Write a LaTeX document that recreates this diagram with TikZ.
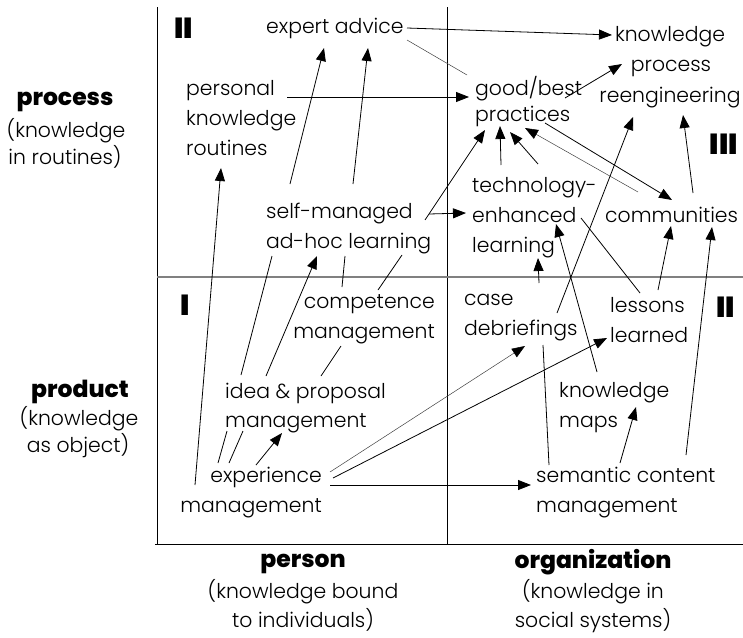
\documentclass[tikz,border=0pt]{standalone}
\usepackage{fontspec}
\setmainfont{Poppins}[UprightFont=* Light, BoldFont=* ExtraBold]
\newfontfamily\numfont{Poppins Black}
\usetikzlibrary{arrows.meta}
\begin{document}
\begin{tikzpicture}[x=1pt,y=-1pt,
  lbl/.style={inner sep=0pt,font=\fontsize{20.4}{25}\selectfont},
  hd/.style={inner sep=0pt,font=\fontsize{23.5}{25}\selectfont\bfseries},
  roman/.style={inner sep=0pt,font=\fontsize{29}{30}\selectfont\numfont},
  conn/.style={line width=0.8pt},
  arr/.style={conn,-{Triangle[length=13pt,width=10pt]}},
  faint/.style={line width=0.5pt,draw=black!75},
  faintarr/.style={faint,-{Triangle[length=13pt,width=10pt,color=black]}},
  frame/.style={line width=0.8pt},
  midline/.style={line width=1.3pt,draw=black!50},
]
\useasboundingbox (0,0) rectangle (743,637);
% frame
\draw[frame] (157,7) coordinate (tl) -- (157,544) coordinate (bl);
\draw[frame] (447,7) coordinate (tm) -- (447,545) coordinate (bm);
\draw[frame] (155,544) coordinate (bx0) -- (743,544) coordinate (bx1);
\draw[midline] (157,277) coordinate (mx0) -- (743,277) coordinate (mx1);

% quadrant numerals
\node[roman,anchor=base west] (q2a) at (174,38) {II};
\node[roman,anchor=base east] (q3) at (738,154) {III};
\node[roman,anchor=base west] (q1) at (180,315) {I};
\node[roman,anchor=base east] (q2b) at (735,317) {II};

% top-left
\node[lbl,anchor=base west] (ea) at (266,33) {expert advice};
\node[lbl,anchor=base west] (pk1) at (186,95) {personal};
\node[lbl,anchor=base west] (pk2) at (186,125) {knowledge};
\node[lbl,anchor=base west] (pk3) at (186,155) {routines};
\node[lbl,anchor=base west] (sm1) at (266,218) {self-managed};
\node[lbl,anchor=base west] (sm2) at (266,248) {ad-hoc learning};

% top-right
\node[lbl,anchor=base] (kp1) at (670,41) {knowledge};
\node[lbl,anchor=base] (kp2) at (671,71) {process};
\node[lbl,anchor=base] (kp3) at (670,102) {reengineering};
\node[lbl,anchor=base west] (gb1) at (475,95) {good/best};
\node[lbl,anchor=base west] (gb2) at (475,121) {practices};
\node[lbl,anchor=base west] (te1) at (472,192) {technology-};
\node[lbl,anchor=base west] (te2) at (472,222) {enhanced};
\node[lbl,anchor=base west] (te3) at (472,252) {learning};
\node[lbl,anchor=base west] (co) at (605,222) {communities};

% bottom-left
\node[lbl,anchor=base east] (cm1) at (435,308) {competence};
\node[lbl,anchor=base east] (cm2) at (435,338) {management};
\node[lbl,anchor=base west] (ip1) at (225,398) {idea \& proposal};
\node[lbl,anchor=base west] (ip2) at (225,427) {management};
\node[lbl,anchor=base east] (em1) at (322,482) {experience};
\node[lbl,anchor=base east] (em2) at (322,512) {management};

% bottom-right
\node[lbl,anchor=base west] (cd1) at (464,305) {case};
\node[lbl,anchor=base west] (cd2) at (464,335) {debriefings};
\node[lbl,anchor=base west] (ll1) at (610,312) {lessons};
\node[lbl,anchor=base west] (ll2) at (610,342) {learned};
\node[lbl,anchor=base west] (km1) at (559,397) {knowledge};
\node[lbl,anchor=base west] (km2) at (559,427) {maps};
\node[lbl,anchor=base west] (sc1) at (536,482) {semantic content};
\node[lbl,anchor=base west] (sc2) at (536,512) {management};

% axis labels
\node[hd,anchor=base] (pr1) at (65,105) {process};
\node[lbl,anchor=base] (pr2) at (66,137) {(knowledge};
\node[lbl,anchor=base] (pr3) at (65,164) {in routines)};
\node[hd,anchor=base] (pd1) at (80,397) {product};
\node[lbl,anchor=base] (pd2) at (79,425) {(knowledge};
\node[lbl,anchor=base] (pd3) at (78,452) {as object)};
\node[hd,anchor=base] (pe1) at (303,567) {person};
\node[lbl,anchor=base] (pe2) at (303,598) {(knowledge bound};
\node[lbl,anchor=base] (pe3) at (303,627) {to individuals)};
\node[hd,anchor=base] (or1) at (593,568) {organization};
\node[lbl,anchor=base] (or2) at (593,598) {(knowledge in};
\node[lbl,anchor=base] (or3) at (593,627) {social systems)};

% connectors
\draw[arr] ([shift={(141,-5)}]ea.base west) -- ([shift={(-58,-6)}]kp1.base);
\draw[faint] ([shift={(141,7)}]ea.base west) -- ([shift={(-8,-20)}]gb1.base west);
\draw[arr] ([shift={(101,2)}]pk1.base west) -- ([shift={(-6,2)}]gb1.base west);
\draw[arr] ([shift={(24,-34)}]sm1.base west) -- ([shift={(58,15)}]ea.base west);
\draw[arr] ([shift={(87,-34)}]sm1.base west) -- ([shift={(102,15)}]ea.base west);
\draw[arr] ([shift={(-127,-27)}]em2.base east) -- ([shift={(35,13)}]pk3.base west);
\draw[conn] ([shift={(16,-23)}]ip1.base west) -- ([shift={(6,8)}]sm2.base west);
\draw[arr] ([shift={(41,-22)}]ip1.base west) -- ([shift={(51,8)}]sm2.base west);
\draw[conn] ([shift={(-93,-21)}]cm1.base east) -- ([shift={(79,8)}]sm2.base west);
\draw[conn] ([shift={(-57,-18)}]cm1.base east) -- ([shift={(136,7)}]sm2.base west);
\draw[conn] ([shift={(-94,8)}]cm2.base east) -- ([shift={(96,-22)}]ip1.base west);
\draw[conn] ([shift={(-104,-19)}]em1.base east) -- ([shift={(2,4)}]ip2.base west);
\draw[conn] ([shift={(-93,-19)}]em1.base east) -- ([shift={(18,4)}]ip2.base west);
\draw[arr] ([shift={(-66,-17)}]em1.base east) -- ([shift={(57,6)}]ip2.base west);
\draw[faintarr] ([shift={(8,-10)}]em1.base east) -- ([shift={(61,11)}]cd2.base west);
\draw[arr] ([shift={(11,-4)}]em1.base east) -- ([shift={(-3,-4)}]ll2.base west);
\draw[arr] ([shift={(8,-27)}]em2.base east) -- ([shift={(-5,3)}]sc1.base west);
\draw[arr] ([shift={(159,2)}]sm1.base west) -- ([shift={(10,9)}]gb2.base west);
\draw[arr] ([shift={(163,-4)}]sm1.base west) -- ([shift={(-6,-9)}]te2.base west);
\draw[arr] ([shift={(29,-27)}]te1.base west) -- ([shift={(25,5)}]gb2.base west);
\draw[arr] ([shift={(66,-28)}]te1.base west) -- ([shift={(35,11)}]gb2.base west);
\draw[faintarr] ([shift={(33,-30)}]co.base west) -- ([shift={(50,7)}]gb2.base west);
\draw[arr] ([shift={(70,2)}]gb2.base west) -- ([shift={(67,-22)}]co.base west);
\draw[arr] ([shift={(90,3)}]gb1.base west) -- ([shift={(-49,-7)}]kp2.base);
\draw[arr] ([shift={(88,-29)}]co.base west) -- ([shift={(13,13)}]kp3.base);
\draw[arr] ([shift={(93,-22)}]cd2.base west) -- ([shift={(-37,15)}]kp3.base);
\draw[arr] ([shift={(38,-25)}]km1.base west) -- ([shift={(84,2)}]te2.base west);
\draw[arr] ([shift={(75,-22)}]cd1.base west) -- ([shift={(66,6)}]te3.base west);
\draw[conn] ([shift={(109,-4)}]te2.base west) -- ([shift={(30,-19)}]ll1.base west);
\draw[arr] ([shift={(48,-22)}]ll1.base west) -- ([shift={(66,4)}]co.base west);
\draw[arr] ([shift={(150,-27)}]sc1.base west) -- ([shift={(107,5)}]co.base west);
\draw[conn] ([shift={(13,-17)}]sc1.base west) -- ([shift={(79,10)}]cd2.base west);
\draw[arr] ([shift={(84,-19)}]sc1.base west) -- ([shift={(77,-20)}]km2.base west);
\end{tikzpicture}
\end{document}
